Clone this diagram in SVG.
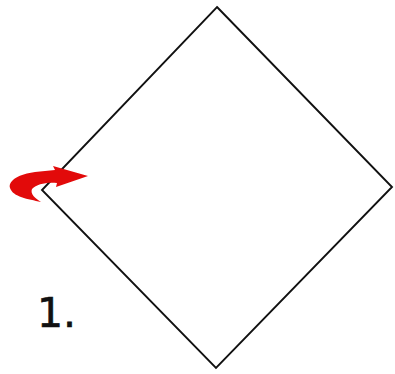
<svg xmlns="http://www.w3.org/2000/svg" width="395" height="374" viewBox="0 0 395 374">
<style>
.edge{fill:none;stroke:#111;stroke-width:1.9;stroke-linejoin:miter}
.arrow{fill:#e20a0a;stroke:none}
.label{font-family:"DejaVu Sans",sans-serif;font-size:41px;fill:#111;stroke:#111;stroke-width:0.6}
</style>
<rect width="395" height="374" fill="#fff"/>
<g id="connectors">
<polygon class="edge" points="217,7 392,187 216,368 42,190"/>
</g>
<g id="rotate-arrow">
<path class="arrow" d="M41,202 C28,199 13,197 10,188 C8,180 20,174 35,172 L55,170 L53,166 L88,176 L56,187 L57,183 C46,182 37,184 32,189 C30,194 35,198 41,202 Z"/>
</g>
<g id="step-label">
<text class="label" x="37" y="327">1.</text>
</g>
</svg>
